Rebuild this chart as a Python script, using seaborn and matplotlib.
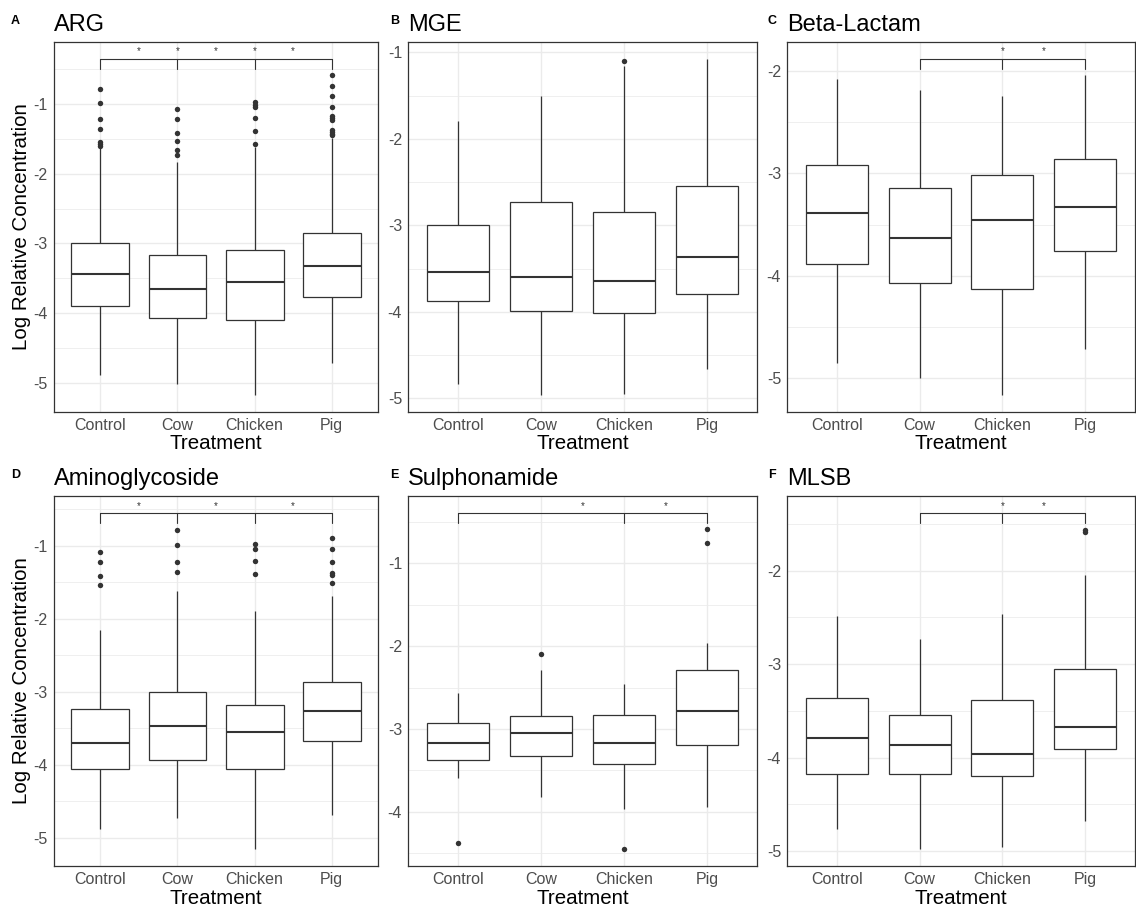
import numpy as np
import pandas as pd
import matplotlib as mpl
mpl.use('Agg')
import matplotlib.pyplot as plt
from matplotlib.ticker import MultipleLocator
import seaborn as sns

treatments = ["Control", "Cow", "Chicken", "Pig"]

# box stats per treatment: [lower whisker, Q1, median, Q3, upper whisker]
arg_box = [[-4.88, -3.90, -3.44, -2.99, -1.62],
           [-5.01, -4.07, -3.65, -3.16, -1.83],
           [-5.17, -4.10, -3.55, -3.09, -1.62],
           [-4.71, -3.77, -3.33, -2.85, -1.49]]
arg_out = [[-0.78, -0.99, -1.22, -1.36, -1.55, -1.57, -1.60],
           [-1.08, -1.21, -1.42, -1.53, -1.66, -1.73],
           [-0.98, -1.01, -1.04, -1.20, -1.39, -1.58],
           [-0.59, -0.75, -0.89, -1.05, -1.17, -1.20, -1.23, -1.38, -1.41, -1.43, -1.45]]

mge_box = [[-4.83, -3.87, -3.54, -2.99, -1.79],
           [-4.96, -3.99, -3.60, -2.73, -1.50],
           [-4.95, -4.01, -3.64, -2.85, -1.16],
           [-4.66, -3.79, -3.37, -2.55, -1.07]]
mge_out = [[], [], [-1.10], []]

beta_box = [[-4.85, -3.88, -3.39, -2.92, -2.08],
            [-5.00, -4.07, -3.63, -3.14, -2.19],
            [-5.16, -4.13, -3.45, -3.02, -2.25],
            [-4.71, -3.76, -3.33, -2.86, -2.04]]
beta_out = [[], [], [], []]

amino_box = [[-4.89, -4.06, -3.70, -3.24, -2.15],
             [-4.73, -3.94, -3.47, -3.01, -1.62],
             [-5.16, -4.06, -3.55, -3.18, -1.89],
             [-4.69, -3.68, -3.27, -2.87, -1.69]]
amino_out = [[-1.09, -1.22, -1.42, -1.54],
             [-0.78, -0.99, -1.23, -1.36],
             [-0.98, -1.04, -1.21, -1.39],
             [-0.90, -1.04, -1.23, -1.37, -1.40, -1.51]]

sulph_box = [[-3.59, -3.37, -3.17, -2.93, -2.57],
             [-3.82, -3.32, -3.05, -2.84, -2.29],
             [-3.96, -3.42, -3.17, -2.83, -2.46],
             [-3.94, -3.19, -2.78, -2.29, -1.96]]
sulph_out = [[-4.38], [-2.10], [-4.45], [-0.59, -0.75]]

mlsb_box = [[-4.76, -4.17, -3.79, -3.36, -2.48],
            [-4.98, -4.18, -3.87, -3.54, -2.73],
            [-4.96, -4.20, -3.96, -3.38, -2.46],
            [-4.68, -3.91, -3.67, -3.05, -2.05]]
mlsb_out = [[], [], [], [-1.56, -1.59]]

# significance brackets: groups with a tip, star x, bracket height
arg_sig = (["Control", "Cow", "Chicken", "Pig"], [0.5, 1.0, 1.5, 2.0, 2.5], -0.35)
mge_sig = None
beta_sig = (["Cow", "Chicken", "Pig"], [2.0, 2.5], -1.88)
amino_sig = (["Control", "Cow", "Chicken", "Pig"], [0.5, 1.5, 2.5], -0.55)
sulph_sig = (["Control", "Chicken", "Pig"], [1.5, 2.5], -0.39)
mlsb_sig = (["Cow", "Chicken", "Pig"], [2.0, 2.5], -1.38)

panels = [("A", "ARG", arg_box, arg_out, arg_sig),
          ("B", "MGE", mge_box, mge_out, mge_sig),
          ("C", "Beta-Lactam", beta_box, beta_out, beta_sig),
          ("D", "Aminoglycoside", amino_box, amino_out, amino_sig),
          ("E", "Sulphonamide", sulph_box, sulph_out, sulph_sig),
          ("F", "MLSB", mlsb_box, mlsb_out, mlsb_sig)]

sns.set_style("white")
plt.rcParams['font.family'] = ['Liberation Sans', 'DejaVu Sans']
plt.rcParams['axes.unicode_minus'] = False
plt.rcParams['text.color'] = 'black'
plt.rcParams['axes.labelcolor'] = 'black'

W, H = 1136, 908
fig = plt.figure(figsize=(W / 100, H / 100), dpi=100)
col_l = [54, 408.3, 787.3]
col_r = [378, 756.7, 1134.6]
row_t = [41.7, 496]
row_b = [411.7, 866]
tag_x = [11, 390, 768]
tag_y = [24, 478]

dark = "#333333"

for i, (tag, title, box, out, sig) in enumerate(panels):
    r, c = divmod(i, 3)
    ax = fig.add_axes([col_l[c] / W, 1 - row_b[r] / H,
                       (col_r[c] - col_l[c]) / W, (row_b[r] - row_t[r]) / H])

    box_df = pd.DataFrame({"Treatment": np.repeat(treatments, 5),
                           "value": np.concatenate(box)})
    sns.boxplot(box_df, x="Treatment", y="value", order=treatments,
                whis=(0, 100), width=0.75, color="white", linecolor=dark,
                linewidth=0.9, showcaps=False, showfliers=False,
                medianprops={"linewidth": 1.5}, ax=ax)

    out_df = pd.DataFrame({"Treatment": [t for t, v in zip(treatments, out) for _ in v],
                           "value": [x for v in out for x in v]})
    if len(out_df):
        sns.stripplot(out_df, x="Treatment", y="value", order=treatments,
                      jitter=False, color=dark, size=3.9, linewidth=0, ax=ax)

    vals = [x for b in box for x in b] + list(out_df["value"])
    lo, hi = min(vals), max(vals)
    if sig is not None:
        hi = max(hi, sig[2])
    rng = hi - lo
    ax.set_ylim(lo - 0.05 * rng, hi + 0.05 * rng)
    ax.set_xlim(-0.6, 3.6)

    if sig is not None:
        groups, stars, y = sig
        xs = [treatments.index(g) for g in groups]
        ax.plot([xs[0], xs[-1]], [y, y], color=dark, lw=0.8)
        for x in xs:
            ax.plot([x, x], [y, y - 0.03 * rng], color=dark, lw=0.8)
        for s in stars:
            ax.annotate("*", xy=(s, y), xytext=(0, 3), textcoords="offset points",
                        ha="center", va="baseline", fontsize=7, color=dark)

    ax.yaxis.set_major_locator(MultipleLocator(1))
    ax.yaxis.set_minor_locator(MultipleLocator(0.5))
    ax.set_axisbelow(True)
    ax.grid(which="major", axis="both", color="#EBEBEB", linewidth=1.0)
    ax.grid(which="minor", axis="y", color="#EBEBEB", linewidth=0.55)
    ax.grid(which="minor", axis="x", visible=False)
    ax.tick_params(which="major", length=3, width=0.8, color=dark,
                   labelsize=11.5, labelcolor="#4D4D4D", pad=1.5)
    ax.tick_params(which="minor", length=0)
    for sp in ax.spines.values():
        sp.set_color(dark)
        sp.set_linewidth(0.9)

    ax.set_xlabel("Treatment", fontsize=14.8, labelpad=1)
    ax.set_ylabel("Log Relative Concentration" if c == 0 else "", fontsize=14.8, labelpad=2)
    ax.annotate(title, xy=(0, 1), xycoords="axes fraction", xytext=(0, 7.7),
                textcoords="offset points", ha="left", va="baseline", fontsize=17)
    fig.text(tag_x[c] / W, 1 - tag_y[r] / H, tag, fontweight="bold", fontsize=9,
             ha="left", va="baseline")

fig.savefig("out.png", dpi=100)
